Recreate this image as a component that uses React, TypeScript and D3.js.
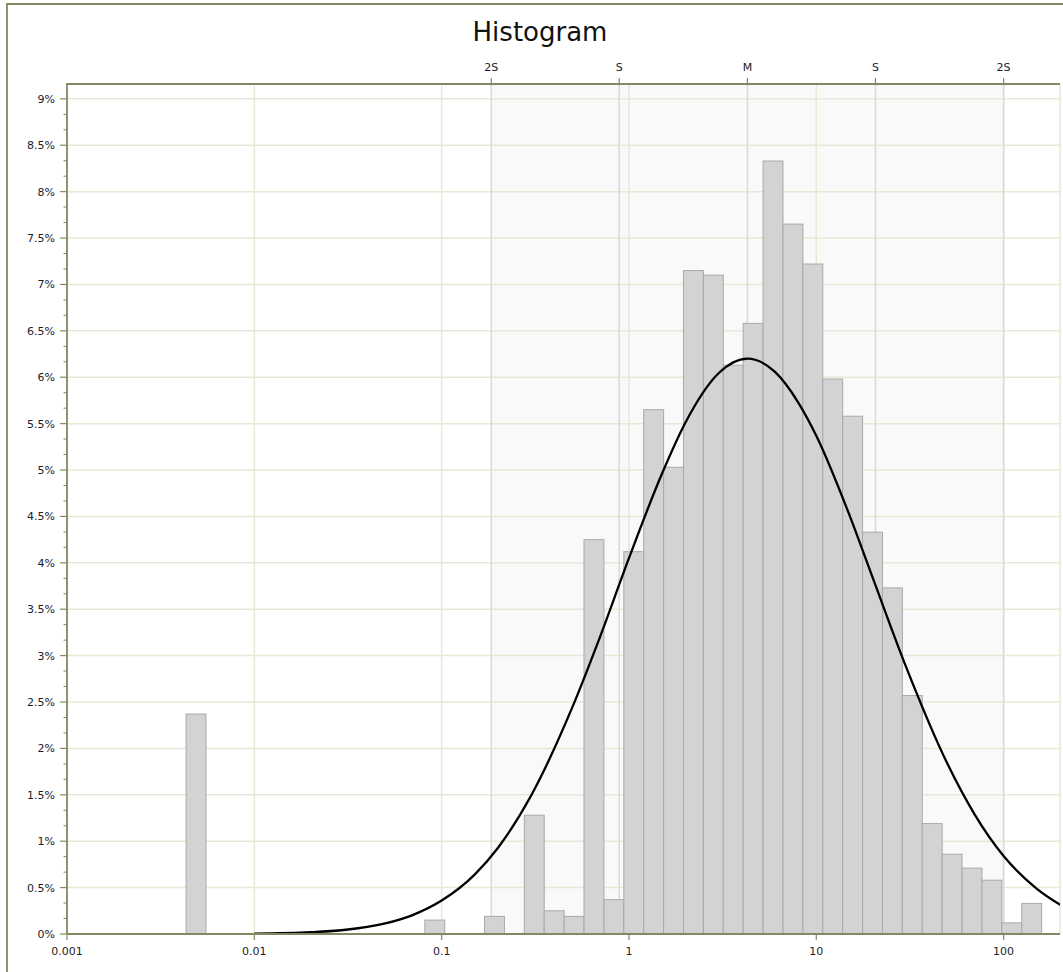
import React, { useEffect, useRef } from 'react';
import * as d3 from 'd3';

// histogram bins (log spaced between binLow and binHigh), percent of samples
const binLow = 0.004322;
const binHigh = 159.6;
const binPct = [
  2.37, 0, 0, 0, 0, 0, 0, 0, 0, 0, 0, 0, 0.15, 0, 0, 0.19, 0, 1.28, 0.25, 0.19,
  4.25, 0.37, 4.12, 5.65, 5.03, 7.15, 7.1, 6.13, 6.58, 8.33, 7.65, 7.22, 5.98, 5.58,
  4.33, 3.73, 2.57, 1.19, 0.86, 0.71, 0.58, 0.12, 0.33,
];

// fitted log-normal curve
const curveX = [0.01, 0.02, 0.03, 0.05, 0.07, 0.1, 0.15, 0.2, 0.3, 0.5, 0.7, 1, 1.5, 2, 3, 4.29, 6, 8, 10, 15, 20, 30, 50, 70, 100, 150, 210];
const curvePct = [0.004, 0.019, 0.043, 0.114, 0.204, 0.36, 0.64, 0.93, 1.49, 2.45, 3.2, 4.05, 4.96, 5.51, 6.04, 6.2, 6.06, 5.73, 5.37, 4.52, 3.84, 2.89, 1.84, 1.29, 0.84, 0.49, 0.29];

// mean / sigma markers on top axis
const sigmaLabels = ['2S', 'S', 'M', 'S', '2S'];
const sigmaValues = [0.184, 0.887, 4.29, 20.7, 100];

const xTickValues = [0.001, 0.01, 0.1, 1, 10, 100];
const xTickLabels = ['0.001', '0.01', '0.1', '1', '10', '100'];
const yTickValues = d3.range(0, 9.01, 0.5);

const W = 1063;
const H = 972;
const FONT = '"DejaVu Sans", Verdana, sans-serif';
const LABEL = '#1c1c2c';

const App: React.FC = () => {
  const svgRef = useRef<SVGSVGElement>(null);

  useEffect(() => {
    if (!svgRef.current) return;
    const svg = d3.select(svgRef.current);
    svg.selectAll('*').remove();

    const left = 67, top = 84, right = 1060, bottom = 934;
    const axisColor = '#7f8a62';
    const gridColor = '#e8e8d6';

    const x = d3.scaleLog().domain([0.001, 200]).range([left, right]);
    const y = d3.scaleLinear().domain([0, 9.16]).range([bottom, top]);

    svg.append('rect').attr('width', W).attr('height', H).attr('fill', 'white');

    // outer frame
    svg.append('path')
      .attr('d', `M7,${H}V4H${W}`)
      .attr('fill', 'none')
      .attr('stroke', axisColor)
      .attr('stroke-width', 1.8);

    svg.append('text')
      .attr('x', 540)
      .attr('y', 41)
      .attr('text-anchor', 'middle')
      .attr('font-family', FONT)
      .attr('font-size', '26px')
      .attr('fill', '#111')
      .text('Histogram');

    svg.append('defs').append('clipPath').attr('id', 'plotClip')
      .append('rect').attr('x', left).attr('y', top).attr('width', right - left).attr('height', bottom - top - 1);

    // +-2 sigma band
    svg.append('rect')
      .attr('x', x(sigmaValues[0]))
      .attr('y', top)
      .attr('width', x(sigmaValues[4]) - x(sigmaValues[0]))
      .attr('height', bottom - top)
      .attr('fill', '#f9f9f9');

    // grid
    const grid = svg.append('g');
    grid.selectAll('.hg')
      .data(yTickValues.filter(d => d > 0))
      .enter().append('line')
      .attr('x1', left).attr('x2', right)
      .attr('y1', d => y(d)).attr('y2', d => y(d))
      .attr('stroke', gridColor).attr('stroke-width', 1.5);
    grid.selectAll('.vg')
      .data(xTickValues.slice(1).concat([200]))
      .enter().append('line')
      .attr('x1', d => x(d)).attr('x2', d => x(d))
      .attr('y1', top).attr('y2', bottom)
      .attr('stroke', gridColor).attr('stroke-width', 1.5);

    // sigma lines
    svg.append('g').selectAll('line')
      .data(sigmaValues)
      .enter().append('line')
      .attr('x1', d => x(d)).attr('x2', d => x(d))
      .attr('y1', top).attr('y2', bottom)
      .attr('stroke', '#d9d9d9').attr('stroke-width', 1.5);

    // bars
    const n = binPct.length;
    const edges = d3.range(n + 1).map(i => binLow * Math.pow(binHigh / binLow, i / n));
    svg.append('g').selectAll('rect')
      .data(binPct.map((v, i) => ({ v, x0: edges[i], x1: edges[i + 1] })).filter(d => d.v > 0))
      .enter().append('rect')
      .attr('x', d => x(d.x0))
      .attr('y', d => y(d.v))
      .attr('width', d => x(d.x1) - x(d.x0))
      .attr('height', d => y(0) - y(d.v))
      .attr('fill', '#d3d3d3')
      .attr('stroke', '#a9a9a9')
      .attr('stroke-width', 1);

    // fitted curve
    const line = d3.line<number>()
      .x((_, i) => x(curveX[i]))
      .y(d => y(d))
      .curve(d3.curveMonotoneX);
    svg.append('path')
      .datum(curvePct)
      .attr('d', line)
      .attr('clip-path', 'url(#plotClip)')
      .attr('fill', 'none')
      .attr('stroke', '#000')
      .attr('stroke-width', 2.3);

    // axes lines
    svg.append('path')
      .attr('d', `M${left},${bottom}V${top}H${right}`)
      .attr('fill', 'none').attr('stroke', axisColor).attr('stroke-width', 1.8);
    svg.append('line')
      .attr('x1', left).attr('x2', right).attr('y1', bottom).attr('y2', bottom)
      .attr('stroke', axisColor).attr('stroke-width', 1.8);

    // y axis
    const yMinor = d3.range(0, 9.16, 0.5 / 3).filter(d => Math.abs(d * 2 - Math.round(d * 2)) > 0.01);
    svg.append('g').selectAll('line')
      .data(yMinor)
      .enter().append('line')
      .attr('x1', left - 3.5).attr('x2', left)
      .attr('y1', d => y(d)).attr('y2', d => y(d))
      .attr('stroke', axisColor).attr('stroke-width', 1);
    const yAxis = svg.append('g');
    yAxis.selectAll('line')
      .data(yTickValues)
      .enter().append('line')
      .attr('x1', left - 7).attr('x2', left)
      .attr('y1', d => y(d)).attr('y2', d => y(d))
      .attr('stroke', axisColor).attr('stroke-width', 1.2);
    yAxis.selectAll('text')
      .data(yTickValues)
      .enter().append('text')
      .attr('x', 55)
      .attr('y', d => y(d) + 4)
      .attr('text-anchor', 'end')
      .attr('font-family', FONT)
      .attr('font-size', '11px')
      .attr('fill', LABEL)
      .text(d => `${d}%`);

    // x axis
    const xAxis = svg.append('g');
    xAxis.selectAll('line')
      .data(xTickValues)
      .enter().append('line')
      .attr('x1', d => x(d)).attr('x2', d => x(d))
      .attr('y1', bottom).attr('y2', bottom + 6)
      .attr('stroke', axisColor).attr('stroke-width', 1.2);
    xAxis.selectAll('text')
      .data(xTickValues)
      .enter().append('text')
      .attr('x', d => x(d))
      .attr('y', 955)
      .attr('text-anchor', 'middle')
      .attr('font-family', FONT)
      .attr('font-size', '11px')
      .attr('fill', LABEL)
      .text((_, i) => xTickLabels[i]);

    // top sigma axis
    const sAxis = svg.append('g');
    sAxis.selectAll('line')
      .data(sigmaValues)
      .enter().append('line')
      .attr('x1', d => x(d)).attr('x2', d => x(d))
      .attr('y1', top - 6).attr('y2', top)
      .attr('stroke', axisColor).attr('stroke-width', 1.2);
    sAxis.selectAll('text')
      .data(sigmaValues)
      .enter().append('text')
      .attr('x', d => x(d))
      .attr('y', 71)
      .attr('text-anchor', 'middle')
      .attr('font-family', FONT)
      .attr('font-size', '11px')
      .attr('fill', LABEL)
      .text((_, i) => sigmaLabels[i]);
  }, []);

  return (
    <svg ref={svgRef} width={W} height={H} style={{ position: 'absolute', left: 0, top: 0 }} />
  );
};

export default App;
